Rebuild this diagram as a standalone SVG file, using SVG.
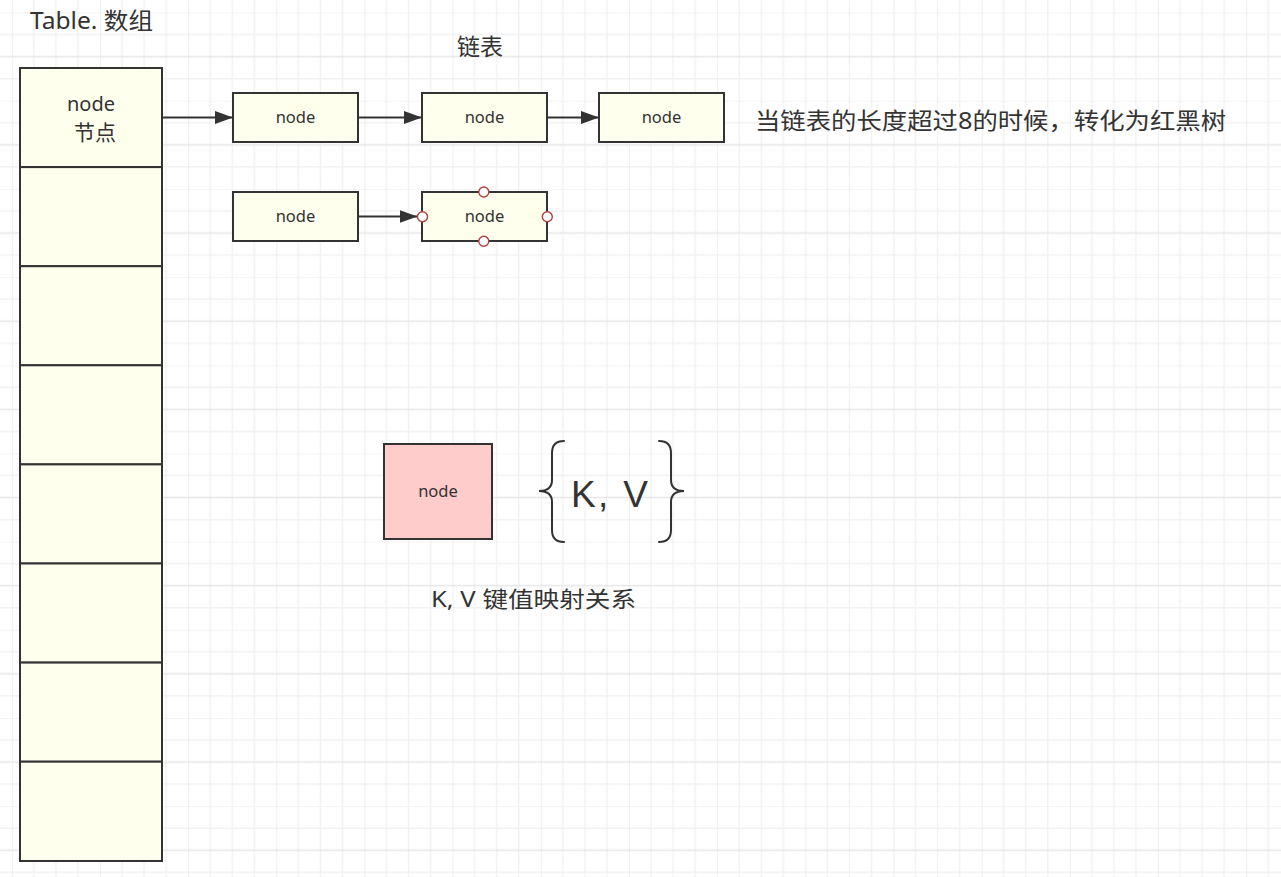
<svg xmlns="http://www.w3.org/2000/svg" width="1281" height="877" viewBox="0 0 1281 877">
<style>
.cell{fill:#ffffee;stroke:#333;stroke-width:2}
.box{fill:#ffffee;stroke:#333;stroke-width:2}
.pink{fill:#ffcccc;stroke:#333;stroke-width:2}
.lat{font-family:"Noto Sans","Liberation Sans",sans-serif;fill:#333}
.cjk{font-family:"Noto Sans","Noto Sans CJK SC",sans-serif;fill:#333}
.conn{stroke:#333;stroke-width:2;fill:none}
.pt{fill:#fff;stroke:#b0403f;stroke-width:1.4}
.brace{fill:none;stroke:#333;stroke-width:2;stroke-linecap:round}
</style>
<defs>
<pattern id="grid" patternUnits="userSpaceOnUse" x="11.8" y="12.6" width="88.17" height="88.17">
<path d="M22.04,0V88.17M44.08,0V88.17M66.13,0V88.17M0,0H88.17M0,22.04H88.17M0,66.13H88.17" stroke="#f1f1f1" stroke-width="1.3" fill="none"/>
<path d="M0,0V88.17M0,44.08H88.17" stroke="#e6e6e6" stroke-width="1.3" fill="none"/>
</pattern>
<marker id="arr" markerUnits="userSpaceOnUse" markerWidth="18" markerHeight="13" refX="18" refY="6.5" orient="auto">
<path d="M0,0L18,6.5L0,13Z" fill="#333"/>
</marker>
</defs>
<rect width="1281" height="877" fill="#fff"/>
<rect width="1281" height="877" fill="url(#grid)"/>

<text class="cjk" x="30" y="29" font-size="23" textLength="123" lengthAdjust="spacingAndGlyphs">Table. 数组</text>
<text class="cjk" x="480" y="55" font-size="23" text-anchor="middle">链表</text>
<text class="cjk" x="755" y="129" font-size="23" textLength="471" lengthAdjust="spacingAndGlyphs">当链表的长度超过8的时候，转化为红黑树</text>

<g id="table">
<g id="cell1"><rect class="cell" x="20" y="68" width="142" height="99.1"/>
<text class="lat" x="91" y="111" font-size="20" text-anchor="middle">node</text>
<text class="cjk" x="95" y="140" font-size="21" text-anchor="middle">节点</text></g>
<g id="cell2"><rect class="cell" x="20" y="167.1" width="142" height="99.1"/></g>
<g id="cell3"><rect class="cell" x="20" y="266.2" width="142" height="99.1"/></g>
<g id="cell4"><rect class="cell" x="20" y="365.3" width="142" height="99.1"/></g>
<g id="cell5"><rect class="cell" x="20" y="464.4" width="142" height="99.1"/></g>
<g id="cell6"><rect class="cell" x="20" y="563.5" width="142" height="99.1"/></g>
<g id="cell7"><rect class="cell" x="20" y="662.6" width="142" height="99.1"/></g>
<g id="cell8"><rect class="cell" x="20" y="761.7" width="142" height="99.3"/></g>
</g>

<g id="connectors">
<path class="conn" d="M162,117.5H233" marker-end="url(#arr)"/>
<path class="conn" d="M358,117.5H422" marker-end="url(#arr)"/>
<path class="conn" d="M547,117.5H599" marker-end="url(#arr)"/>
<path class="conn" d="M358,216.5H417.5" marker-end="url(#arr)"/>
</g>

<g id="n1"><rect class="box" x="233" y="93" width="125" height="49"/><text class="lat" x="295.5" y="123" font-size="16.5" text-anchor="middle">node</text></g>
<g id="n2"><rect class="box" x="422" y="93" width="125" height="49"/><text class="lat" x="484.5" y="123" font-size="16.5" text-anchor="middle">node</text></g>
<g id="n3"><rect class="box" x="599" y="93" width="125" height="49"/><text class="lat" x="661.5" y="123" font-size="16.5" text-anchor="middle">node</text></g>
<g id="n4"><rect class="box" x="233" y="192" width="125" height="49"/><text class="lat" x="295.5" y="222" font-size="16.5" text-anchor="middle">node</text></g>
<g id="n5"><rect class="box" x="422" y="192" width="125" height="49"/><text class="lat" x="484.5" y="222" font-size="16.5" text-anchor="middle">node</text>
<circle class="pt" cx="422.5" cy="216.8" r="5"/>
<circle class="pt" cx="547.3" cy="216.8" r="5"/>
<circle class="pt" cx="483.8" cy="192" r="5"/>
<circle class="pt" cx="483.8" cy="241.3" r="5"/>
</g>

<g id="kvnode"><rect class="pink" x="384" y="444" width="108" height="95"/><text class="lat" x="438" y="497" font-size="16.5" text-anchor="middle">node</text></g>

<g id="kv">
<path class="brace" d="M564,441Q552,441 552,453L552,480Q552,491 539,491Q552,491 552,502L552,530Q552,542 564,542"/>
<path class="brace" d="M659,441Q671,441 671,453L671,480Q671,491 684,491Q671,491 671,502L671,530Q671,542 659,542"/>
<text x="571" y="507" font-size="37" fill="#333" font-family="'Liberation Sans',Arial,sans-serif" textLength="77" lengthAdjust="spacing">K, V</text>
</g>
<text class="cjk" x="431" y="607" font-size="22" textLength="205" lengthAdjust="spacingAndGlyphs">K, V 键值映射关系</text>
</svg>
